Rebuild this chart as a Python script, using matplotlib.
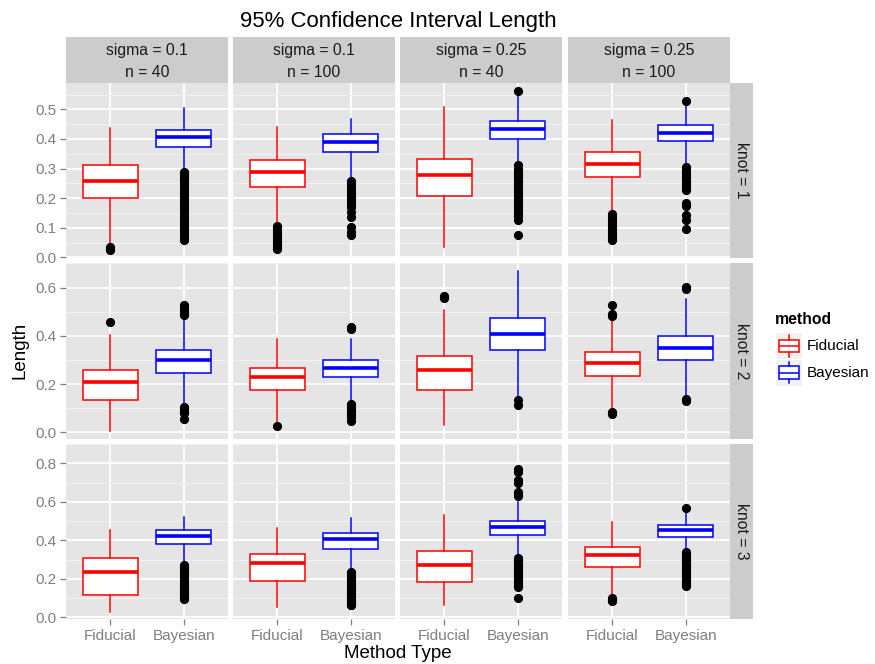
import matplotlib
matplotlib.use("Agg")
import matplotlib.pyplot as plt

plt.rcParams['font.family'] = ['Liberation Sans', 'DejaVu Sans']

col_top = ["sigma = 0.1", "sigma = 0.1", "sigma = 0.25", "sigma = 0.25"]
col_bottom = ["n = 40", "n = 100", "n = 40", "n = 100"]
row_labels = ["knot = 1", "knot = 2", "knot = 3"]
methods = ["Fiducial", "Bayesian"]
method_colors = ["#FF0000", "#0000FF"]

# (whisker low, q1, median, q3, whisker high), rows = knot, cols = sigma/n
fid_stats = [
    [(0.041, 0.202, 0.259, 0.311, 0.438), (0.109, 0.239, 0.290, 0.329, 0.440),
     (0.035, 0.207, 0.277, 0.333, 0.509), (0.149, 0.270, 0.315, 0.355, 0.463)],
    [(0.007, 0.133, 0.209, 0.258, 0.405), (0.038, 0.175, 0.230, 0.268, 0.387),
     (0.031, 0.175, 0.258, 0.317, 0.509), (0.091, 0.234, 0.289, 0.332, 0.467)],
    [(0.028, 0.117, 0.236, 0.308, 0.451), (0.051, 0.186, 0.280, 0.326, 0.463),
     (0.062, 0.184, 0.269, 0.342, 0.533), (0.106, 0.261, 0.322, 0.365, 0.494)],
]
bay_stats = [
    [(0.296, 0.372, 0.406, 0.429, 0.503), (0.264, 0.355, 0.389, 0.417, 0.468),
     (0.324, 0.401, 0.434, 0.460, 0.545), (0.319, 0.392, 0.421, 0.446, 0.517)],
    [(0.112, 0.247, 0.300, 0.342, 0.481), (0.126, 0.228, 0.265, 0.300, 0.387),
     (0.147, 0.342, 0.406, 0.472, 0.667), (0.154, 0.300, 0.349, 0.400, 0.551)],
    [(0.280, 0.381, 0.423, 0.455, 0.520), (0.241, 0.357, 0.404, 0.438, 0.516),
     (0.323, 0.427, 0.468, 0.500, 0.598), (0.350, 0.419, 0.454, 0.479, 0.547)],
]

fid_out = [
    [[0.025, 0.030, 0.035],
     [0.105, 0.095, 0.085, 0.075, 0.065, 0.055, 0.045, 0.035, 0.028],
     [],
     [0.145, 0.135, 0.125, 0.115, 0.105, 0.095, 0.085, 0.075, 0.065, 0.060]],
    [[0.458],
     [0.025],
     [0.555, 0.565],
     [0.527, 0.490, 0.482, 0.083, 0.075]],
    [[],
     [],
     [],
     [0.098, 0.090, 0.085]],
]
bay_out = [
    [[0.290, 0.280, 0.270, 0.260, 0.250, 0.240, 0.230, 0.220, 0.210, 0.200,
      0.190, 0.180, 0.170, 0.160, 0.150, 0.140, 0.130, 0.120, 0.110, 0.100,
      0.090, 0.080, 0.070, 0.058],
     [0.258, 0.250, 0.240, 0.230, 0.220, 0.210, 0.200, 0.190, 0.180, 0.170,
      0.154, 0.137, 0.103, 0.086, 0.075],
     [0.562, 0.313, 0.300, 0.290, 0.280, 0.270, 0.260, 0.250, 0.240, 0.230,
      0.220, 0.210, 0.200, 0.190, 0.180, 0.170, 0.160, 0.150, 0.140, 0.128,
      0.077],
     [0.528, 0.305, 0.295, 0.285, 0.275, 0.265, 0.255, 0.245, 0.235, 0.228,
      0.183, 0.175, 0.143, 0.126, 0.095]],
    [[0.526, 0.515, 0.505, 0.495, 0.488, 0.105, 0.095, 0.085, 0.078, 0.056],
     [0.438, 0.428, 0.119, 0.110, 0.100, 0.090, 0.080, 0.070, 0.064, 0.045],
     [0.135, 0.115],
     [0.603, 0.594, 0.136, 0.128]],
    [[0.270, 0.260, 0.250, 0.240, 0.230, 0.220, 0.210, 0.200, 0.190, 0.180,
      0.170, 0.160, 0.150, 0.140, 0.130, 0.120, 0.110, 0.100, 0.096],
     [0.235, 0.225, 0.215, 0.205, 0.195, 0.185, 0.175, 0.165, 0.155, 0.145,
      0.135, 0.125, 0.115, 0.105, 0.095, 0.085, 0.075, 0.065, 0.062],
     [0.769, 0.755, 0.715, 0.700, 0.652, 0.640, 0.628, 0.310, 0.300, 0.290,
      0.280, 0.270, 0.260, 0.250, 0.240, 0.230, 0.220, 0.210, 0.200, 0.190,
      0.180, 0.170, 0.160, 0.156, 0.101],
     [0.567, 0.340, 0.330, 0.320, 0.310, 0.300, 0.290, 0.280, 0.270, 0.260,
      0.250, 0.240, 0.230, 0.220, 0.210, 0.200, 0.190, 0.180, 0.170, 0.163]],
]

row_ticks = [[0.0, 0.1, 0.2, 0.3, 0.4, 0.5],
             [0.0, 0.2, 0.4, 0.6],
             [0.0, 0.2, 0.4, 0.6, 0.8]]

W, H = 875, 664
fig = plt.figure(figsize=(W / 100, H / 100), dpi=100)


def rect(x0, y0, w, h):
    return [x0 / W, 1 - (y0 + h) / H, w / W, h / H]


lefts = [66, 233, 400, 568]
tops = [83, 263.5, 444]
pw, ph = 162, 175
tick_grey = "#7F7F7F"
strip_grey = "#CCCCCC"


def stat_dict(s, fl, label):
    return dict(whislo=s[0], q1=s[1], med=s[2], q3=s[3], whishi=s[4],
                fliers=fl, label=label)


def draw_box(ax, stats, pos, color, width=0.75, lw=1.1, mlw=2.6, ms=5.6):
    ax.bxp([stats], positions=[pos], widths=width, showcaps=False,
           patch_artist=True,
           boxprops=dict(facecolor="white", edgecolor=color, linewidth=lw),
           whiskerprops=dict(color=color, linewidth=lw),
           medianprops=dict(color=color, linewidth=mlw, solid_capstyle="butt"),
           flierprops=dict(marker="o", markerfacecolor="black",
                           markeredgecolor="black", markersize=ms,
                           linestyle="none"))


for r in range(3):
    # shared y range per row, ggplot-style 5% expansion
    vals = []
    for c in range(4):
        vals += [fid_stats[r][c][0], fid_stats[r][c][4],
                 bay_stats[r][c][0], bay_stats[r][c][4]]
        vals += fid_out[r][c] + bay_out[r][c]
    lo, hi = min(vals), max(vals)
    pad = 0.05 * (hi - lo)
    ticks = row_ticks[r]
    step = ticks[1] - ticks[0]
    minor = [t + step / 2 for t in ticks]

    for c in range(4):
        ax = fig.add_axes(rect(lefts[c], tops[r], pw, ph))
        ax.set_facecolor("#E5E5E5")
        for sp in ax.spines.values():
            sp.set_visible(False)
        ax.set_axisbelow(True)

        draw_box(ax, stat_dict(fid_stats[r][c], fid_out[r][c], methods[0]),
                 1, method_colors[0])
        draw_box(ax, stat_dict(bay_stats[r][c], bay_out[r][c], methods[1]),
                 2, method_colors[1])

        ax.set_xlim(0.4, 2.6)
        ax.set_ylim(lo - pad, hi + pad)
        ax.set_xticks([1, 2])
        ax.set_yticks(ticks)
        ax.set_yticks(minor, minor=True)
        ax.grid(which="major", color="white", linewidth=1.3)
        ax.grid(which="minor", axis="y", color="#F2F2F2", linewidth=0.7)
        ax.tick_params(which="minor", length=0)
        ax.tick_params(which="major", length=4.5, width=0.9, color=tick_grey,
                       labelcolor=tick_grey, labelsize=11, pad=2.5)

        if c == 0:
            ax.set_yticklabels(["%.1f" % t for t in ticks])
        else:
            ax.tick_params(axis="y", length=0, labelleft=False)
        if r == 2:
            ax.set_xticklabels(methods)
        else:
            ax.tick_params(axis="x", length=0, labelbottom=False)

        if r == 0:
            sax = fig.add_axes(rect(lefts[c], 37, pw, 46))
            sax.set_facecolor(strip_grey)
            sax.set_xticks([])
            sax.set_yticks([])
            for sp in sax.spines.values():
                sp.set_visible(False)
            sax.text(0.5, 0.70, col_top[c], ha="center", va="center",
                     fontsize=11.3, color="#1A1A1A", transform=sax.transAxes)
            sax.text(0.5, 0.22, col_bottom[c], ha="center", va="center",
                     fontsize=11.3, color="#1A1A1A", transform=sax.transAxes)

    rax = fig.add_axes(rect(730, tops[r], 23, ph))
    rax.set_facecolor(strip_grey)
    rax.set_xticks([])
    rax.set_yticks([])
    for sp in rax.spines.values():
        sp.set_visible(False)
    rax.text(0.5, 0.5, row_labels[r], ha="center", va="center", rotation=-90,
             fontsize=11.3, color="#1A1A1A", transform=rax.transAxes)

fig.text(398 / W, 1 - 22 / H, "95% Confidence Interval Length",
         ha="center", va="center", fontsize=16)
fig.text(398 / W, 1 - 654 / H, "Method Type", ha="center", va="center",
         fontsize=13.5)
fig.text(20 / W, 1 - 350 / H, "Length", ha="center", va="center",
         rotation=90, fontsize=13.5)

# legend
fig.text(775 / W, 1 - 320 / H, "method", ha="left", va="center",
         fontsize=11.3, fontweight="bold")
for i, (m, col) in enumerate(zip(methods, method_colors)):
    y0 = 333 + i * 26.5
    kax = fig.add_axes(rect(776, y0, 26, 26))
    kax.set_facecolor("#F2F2F2")
    for sp in kax.spines.values():
        sp.set_visible(False)
    draw_box(kax, dict(whislo=0.08, q1=0.25, med=0.5, q3=0.75, whishi=0.92,
                       fliers=[], label=m), 0.5, col, width=0.8, lw=1.1,
             mlw=1.1)
    kax.set_xlim(0, 1)
    kax.set_ylim(0, 1)
    kax.set_xticks([])
    kax.set_yticks([])
    fig.text(807 / W, 1 - (y0 + 13) / H, m, ha="left", va="center",
             fontsize=11)

fig.savefig("out.png", dpi=100)
